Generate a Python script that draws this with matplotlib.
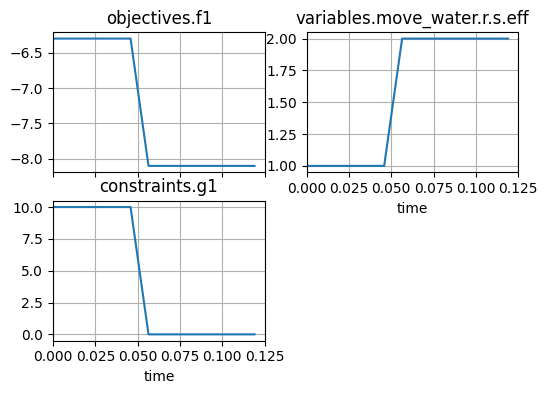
import numpy as np
import matplotlib
matplotlib.use('Agg')
import matplotlib.pyplot as plt

# time history of the three recorded quantities
time = [0.0, 0.0458, 0.0564, 0.119]
f1 = [-6.3, -6.3, -8.1, -8.1]
eff = [1.0, 1.0, 2.0, 2.0]
g1 = [10.0, 10.0, 0.0, 0.0]

fig, axs = plt.subplots(2, 2, sharex=True, figsize=(5.48, 3.93))
plt.subplots_adjust(left=0.0967, right=0.9458, top=0.918, bottom=0.133, wspace=0.198, hspace=0.203)

series = [(axs[0, 0], f1, 'objectives.f1'),
          (axs[0, 1], eff, 'variables.move_water.r.s.eff'),
          (axs[1, 0], g1, 'constraints.g1')]

for ax, vals, name in series:
	ax.plot(time, vals)
	ax.set_title(name)
	ax.grid(True)

axs[1, 1].remove()
axs[0, 0].set_xlim(0, 0.125)
axs[0, 1].xaxis.set_tick_params(labelbottom=True)
axs[0, 1].set_xlabel('time')
axs[1, 0].set_xlabel('time')

plt.savefig('out.png', dpi=100)
